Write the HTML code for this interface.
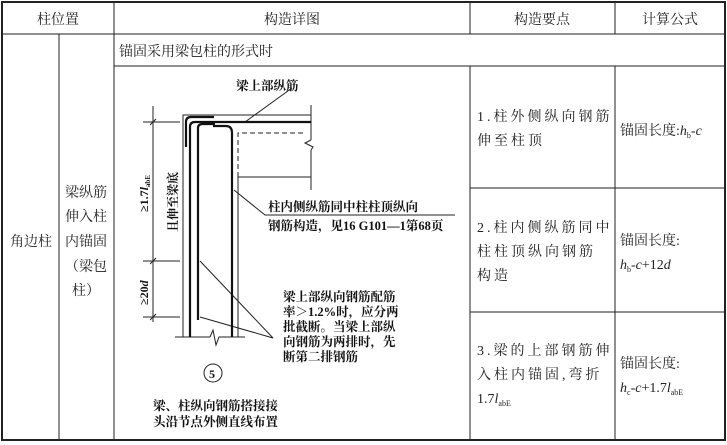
<!DOCTYPE html>
<html><head><meta charset="utf-8"><style>
body{margin:0;background:#fff;}
svg{display:block;font-family:"Liberation Serif","Noto Serif CJK SC","Noto Sans CJK SC",serif;}
</style></head><body>
<svg width="727" height="445" viewBox="0 0 727 445" xmlns="http://www.w3.org/2000/svg">
<g stroke="#222" fill="none">
<rect x="2" y="2" width="723" height="438" stroke-width="2"/>
<line x1="2" y1="34" x2="725" y2="34" stroke-width="1"/>
<line x1="114" y1="66" x2="725" y2="66"/>
<line x1="59" y1="34" x2="59" y2="440"/>
<line x1="114" y1="2" x2="114" y2="440"/>
<line x1="470" y1="2" x2="470" y2="34"/>
<line x1="615" y1="2" x2="615" y2="34"/>
<line x1="470" y1="66" x2="470" y2="440"/>
<line x1="615" y1="66" x2="615" y2="440"/>
<line x1="470" y1="188" x2="725" y2="188"/>
<line x1="470" y1="312" x2="725" y2="312"/>
</g>
<g font-size="14" fill="#222" text-anchor="middle">
<text x="58" y="24">柱位置</text>
<text x="292" y="24">构造详图</text>
<text x="542" y="24">构造要点</text>
<text x="670" y="24">计算公式</text>
<text x="31" y="246">角边柱</text>
<text x="86" y="197">梁纵筋</text>
<text x="86" y="221">伸入柱</text>
<text x="86" y="246">内锚固</text>
<text x="86" y="271">（梁包</text>
<text x="86" y="295">柱）</text>
</g>
<text x="119" y="56" font-size="14" fill="#222">锚固采用梁包柱的形式时</text>
<g font-size="14" fill="#222" letter-spacing="3">
<text x="477" y="121">1.柱外侧纵向钢筋</text>
<text x="477" y="145">伸至柱顶</text>
<text x="477" y="232">2.柱内侧纵筋同中</text>
<text x="477" y="256">柱柱顶纵向钢筋</text>
<text x="477" y="280">构造</text>
<text x="477" y="355">3.梁的上部钢筋伸</text>
<text x="477" y="379">入柱内锚固,弯折</text>
</g>
<text x="477" y="403" font-size="14" fill="#222">1.7<tspan font-style="italic">l</tspan><tspan font-size="8" dy="3">abE</tspan></text>
<g font-size="14" fill="#222">
<text x="620" y="135">锚固长度:<tspan font-style="italic">h</tspan><tspan font-size="8" dy="3">b</tspan><tspan dy="-3">-</tspan><tspan font-style="italic">c</tspan></text>
<text x="620" y="245">锚固长度:</text>
<text x="620" y="269"><tspan font-style="italic">h</tspan><tspan font-size="8" dy="3">b</tspan><tspan dy="-3">-</tspan><tspan font-style="italic">c</tspan>+12<tspan font-style="italic">d</tspan></text>
<text x="620" y="368">锚固长度:</text>
<text x="620" y="392"><tspan font-style="italic">h</tspan><tspan font-size="8" dy="3">c</tspan><tspan dy="-3">-</tspan><tspan font-style="italic">c</tspan>+1.7<tspan font-style="italic">l</tspan><tspan font-size="8" dy="3">abE</tspan></text>
</g>
<g stroke="#222" fill="none" stroke-width="1">
<polyline points="183,337 183,115 311,115"/>
<line x1="311" y1="105" x2="311" y2="140"/>
<polyline points="311,140 305,143 313,147 311,150"/>
<line x1="311" y1="150" x2="311" y2="190"/>
<line x1="238" y1="177" x2="311" y2="177"/>
<polyline points="238,177 238,133 305,133" stroke-dasharray="5,3"/>
<line x1="238" y1="177" x2="238" y2="337"/>
<line x1="175" y1="337" x2="210" y2="337"/>
<polyline points="210,337 213,330 216,345 219,337 245,337"/>
<line x1="153" y1="106" x2="153" y2="322"/>
<line x1="143" y1="122" x2="180" y2="122"/>
<line x1="143" y1="261" x2="180" y2="261"/>
<line x1="143" y1="317" x2="180" y2="317"/>
<line x1="150" y1="125" x2="156" y2="119"/>
<line x1="150" y1="264" x2="156" y2="258"/>
<line x1="150" y1="320" x2="156" y2="314"/>
<line x1="292" y1="88" x2="245" y2="122"/>
<polyline points="234,190 265,215 455,215"/>
<line x1="273" y1="338" x2="200" y2="261"/>
<line x1="273" y1="338" x2="200" y2="317"/>
<circle cx="213" cy="373" r="9"/>
</g>
<g stroke="#111" fill="none" stroke-width="2.2">
<path d="M186,147 V122 Q186,117 191,117 H214"/>
<path d="M190,337 V127 Q190,122 195,122 H311"/>
<path d="M198,320 V128 Q198,124 203,124 H215"/>
<path d="M213,126 H226 Q232,126 232,133 V337"/>
</g>
<g fill="#111" font-size="12.5" font-weight="bold">
<text x="236" y="90">梁上部纵筋</text>
<text x="268" y="211">柱内侧纵筋同中柱柱顶纵向</text>
<text x="268" y="230">钢筋构造，见16 G101—1第68页</text>
<text x="283" y="301">梁上部纵向钢筋配筋</text>
<text x="283" y="316">率＞1.2%时，应分两</text>
<text x="283" y="331">批截断。当梁上部纵</text>
<text x="283" y="346">向钢筋为两排时，先</text>
<text x="283" y="361">断第二排钢筋</text>
<text x="153" y="410">梁、柱纵向钢筋搭接接</text>
<text x="153" y="426">头沿节点外侧直线布置</text>
<text x="209" y="378" font-size="12">5</text>
<text transform="translate(148,212) rotate(-90)" font-size="12">≥1.7<tspan font-style="italic">l</tspan><tspan font-size="7" dy="2">abE</tspan></text>
<text transform="translate(177,232) rotate(-90)" font-size="12">且伸至梁底</text>
<text transform="translate(148,305) rotate(-90)" font-size="12">≥20<tspan font-style="italic">d</tspan></text>
</g>
</svg>
</body></html>
